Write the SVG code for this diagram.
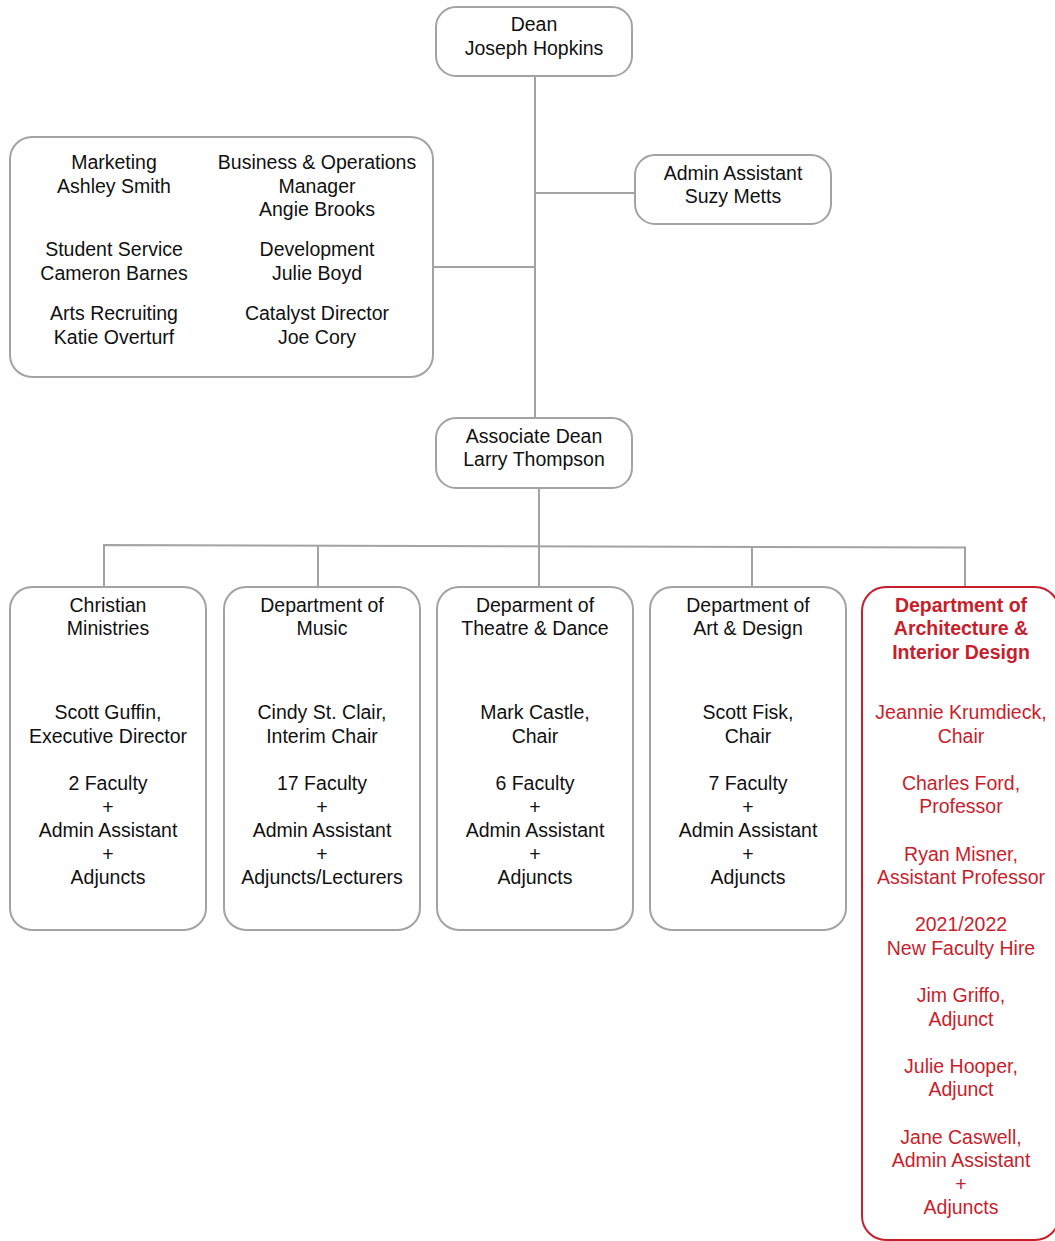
<svg xmlns="http://www.w3.org/2000/svg" width="1055" height="1241" viewBox="0 0 1055 1241">
<style>
.box{fill:#fff;stroke:#a3a3a5;stroke-width:2}
.red{fill:#fff;stroke:#c81e2c;stroke-width:2}
.ln{fill:none;stroke:#a3a3a5;stroke-width:2}
text{font-family:"Liberation Sans",Arial,Helvetica,sans-serif;font-size:19.5px;fill:#111;text-anchor:middle}
.rt{fill:#c81e2c}
.b{font-weight:bold}
</style>
<rect width="1055" height="1241" fill="#fff"/>
<g id="connectors">
<path class="ln" d="M535 76V418"/>
<path class="ln" d="M535 193H635"/>
<path class="ln" d="M433 267H535"/>
<path class="ln" d="M539 488V587"/>
<path class="ln" d="M104 587V545L965 547.5V587"/>
<path class="ln" d="M318 546V587"/>
<path class="ln" d="M752 547V587"/>
</g>
<g id="dean">
<rect class="box" x="436" y="7" width="196" height="69" rx="20"/>
<text x="534" y="31">Dean</text>
<text x="534" y="55">Joseph Hopkins</text>
</g>
<g id="admin">
<rect class="box" x="635" y="155" width="196" height="69" rx="20"/>
<text x="733" y="180">Admin Assistant</text>
<text x="733" y="203">Suzy Metts</text>
</g>
<g id="staff">
<rect class="box" x="10" y="137" width="423" height="240" rx="22"/>
<text x="114" y="169">Marketing</text>
<text x="114" y="193">Ashley Smith</text>
<text x="317" y="169">Business &amp; Operations</text>
<text x="317" y="193">Manager</text>
<text x="317" y="216">Angie Brooks</text>
<text x="114" y="256">Student Service</text>
<text x="114" y="280">Cameron Barnes</text>
<text x="317" y="256">Development</text>
<text x="317" y="280">Julie Boyd</text>
<text x="114" y="320">Arts Recruiting</text>
<text x="114" y="344">Katie Overturf</text>
<text x="317" y="320">Catalyst Director</text>
<text x="317" y="344">Joe Cory</text>
</g>
<g id="assocdean">
<rect class="box" x="436" y="418" width="196" height="70" rx="20"/>
<text x="534" y="443">Associate Dean</text>
<text x="534" y="466">Larry Thompson</text>
</g>
<g id="christian">
<rect class="box" x="10" y="587" width="196" height="343" rx="22"/>
<text x="108" y="612">Christian</text>
<text x="108" y="635">Ministries</text>
<text x="108" y="719">Scott Guffin,</text>
<text x="108" y="743">Executive Director</text>
<text x="108" y="790">2 Faculty</text>
<text x="108" y="814">+</text>
<text x="108" y="837">Admin Assistant</text>
<text x="108" y="861">+</text>
<text x="108" y="884">Adjuncts</text>
</g>
<g id="music">
<rect class="box" x="224" y="587" width="196" height="343" rx="22"/>
<text x="322" y="612">Department of</text>
<text x="322" y="635">Music</text>
<text x="322" y="719">Cindy St. Clair,</text>
<text x="322" y="743">Interim Chair</text>
<text x="322" y="790">17 Faculty</text>
<text x="322" y="814">+</text>
<text x="322" y="837">Admin Assistant</text>
<text x="322" y="861">+</text>
<text x="322" y="884">Adjuncts/Lecturers</text>
</g>
<g id="theatre">
<rect class="box" x="437" y="587" width="196" height="343" rx="22"/>
<text x="535" y="612">Deparment of</text>
<text x="535" y="635">Theatre &amp; Dance</text>
<text x="535" y="719">Mark Castle,</text>
<text x="535" y="743">Chair</text>
<text x="535" y="790">6 Faculty</text>
<text x="535" y="814">+</text>
<text x="535" y="837">Admin Assistant</text>
<text x="535" y="861">+</text>
<text x="535" y="884">Adjuncts</text>
</g>
<g id="art">
<rect class="box" x="650" y="587" width="196" height="343" rx="22"/>
<text x="748" y="612">Department of</text>
<text x="748" y="635">Art &amp; Design</text>
<text x="748" y="719">Scott Fisk,</text>
<text x="748" y="743">Chair</text>
<text x="748" y="790">7 Faculty</text>
<text x="748" y="814">+</text>
<text x="748" y="837">Admin Assistant</text>
<text x="748" y="861">+</text>
<text x="748" y="884">Adjuncts</text>
</g>
<g id="architecture">
<rect class="red" x="862" y="587" width="197" height="653" rx="24"/>
<text class="rt b" x="961" y="612">Department of</text>
<text class="rt b" x="961" y="635">Architecture &amp;</text>
<text class="rt b" x="961" y="659">Interior Design</text>
<text class="rt" x="961" y="719">Jeannie Krumdieck,</text>
<text class="rt" x="961" y="743">Chair</text>
<text class="rt" x="961" y="790">Charles Ford,</text>
<text class="rt" x="961" y="813">Professor</text>
<text class="rt" x="961" y="861">Ryan Misner,</text>
<text class="rt" x="961" y="884">Assistant Professor</text>
<text class="rt" x="961" y="931">2021/2022</text>
<text class="rt" x="961" y="955">New Faculty Hire</text>
<text class="rt" x="961" y="1002">Jim Griffo,</text>
<text class="rt" x="961" y="1026">Adjunct</text>
<text class="rt" x="961" y="1073">Julie Hooper,</text>
<text class="rt" x="961" y="1096">Adjunct</text>
<text class="rt" x="961" y="1144">Jane Caswell,</text>
<text class="rt" x="961" y="1167">Admin Assistant</text>
<text class="rt" x="961" y="1191">+</text>
<text class="rt" x="961" y="1214">Adjuncts</text>
</g>
</svg>
